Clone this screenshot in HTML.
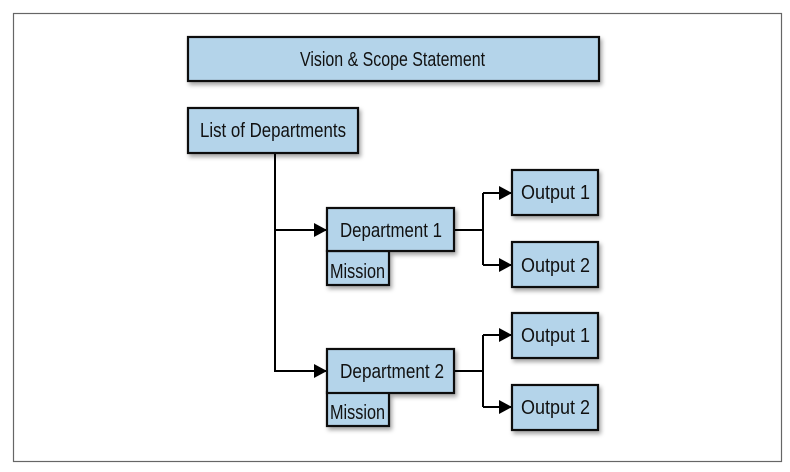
<!DOCTYPE html>
<html><head><meta charset="utf-8"><style>
html,body{margin:0;padding:0;background:#fff;width:790px;height:472px;overflow:hidden}
text{font-family:"Liberation Sans",sans-serif;font-size:20px;fill:#111}
</style></head><body>
<svg width="790" height="472" viewBox="0 0 790 472" xmlns="http://www.w3.org/2000/svg">
<defs>
<filter id="sh" x="-10%" y="-10%" width="130%" height="150%"><feDropShadow dx="2" dy="3" stdDeviation="2" flood-color="#000" flood-opacity="0.35"/></filter>
<marker id="ar" markerWidth="13" markerHeight="14" refX="12" refY="7" orient="auto" markerUnits="userSpaceOnUse"><path d="M0,0 L13,7 L0,14 z" fill="#000"/></marker>
</defs>
<rect x="13.5" y="13.5" width="768" height="448" fill="none" stroke="#666" stroke-width="1.2"/>
<g stroke="#000" stroke-width="2" fill="none">
<path d="M275 153 V371 H326" marker-end="url(#ar)"/>
<path d="M275 230 H326" marker-end="url(#ar)"/>
<path d="M454 230 H483 M483 193 V265"/>
<path d="M483 193 H511" marker-end="url(#ar)"/>
<path d="M483 265 H511" marker-end="url(#ar)"/>
<path d="M454 371 H483 M483 335 V407"/>
<path d="M483 335 H511" marker-end="url(#ar)"/>
<path d="M483 407 H511" marker-end="url(#ar)"/>
</g>
<g fill="#b4d4ea" stroke="#111" stroke-width="2.2" filter="url(#sh)">
<rect x="188" y="37" width="411" height="44"/>
<rect x="188" y="108" width="170" height="45"/>
<rect x="327" y="251" width="62" height="34"/>
<rect x="327" y="208" width="127" height="43"/>
<rect x="512" y="170" width="86" height="45"/>
<rect x="512" y="242" width="86" height="45"/>
<rect x="327" y="392" width="62" height="34"/>
<rect x="327" y="349" width="127" height="44"/>
<rect x="512" y="313" width="86" height="45"/>
<rect x="512" y="385" width="86" height="45"/>
</g>
<g lengthAdjust="spacingAndGlyphs">
<text x="300" y="66" textLength="185" lengthAdjust="spacingAndGlyphs">Vision &amp; Scope Statement</text>
<text x="200" y="137" textLength="146" lengthAdjust="spacingAndGlyphs">List of Departments</text>
<text x="340" y="237" textLength="102" lengthAdjust="spacingAndGlyphs">Department 1</text>
<text x="330" y="278" textLength="55" lengthAdjust="spacingAndGlyphs">Mission</text>
<text x="521" y="199" textLength="69" lengthAdjust="spacingAndGlyphs">Output 1</text>
<text x="521" y="272" textLength="69" lengthAdjust="spacingAndGlyphs">Output 2</text>
<text x="340" y="378" textLength="104" lengthAdjust="spacingAndGlyphs">Department 2</text>
<text x="330" y="419" textLength="55" lengthAdjust="spacingAndGlyphs">Mission</text>
<text x="521" y="342" textLength="69" lengthAdjust="spacingAndGlyphs">Output 1</text>
<text x="521" y="414" textLength="69" lengthAdjust="spacingAndGlyphs">Output 2</text>
</g>
</svg>
</body></html>
